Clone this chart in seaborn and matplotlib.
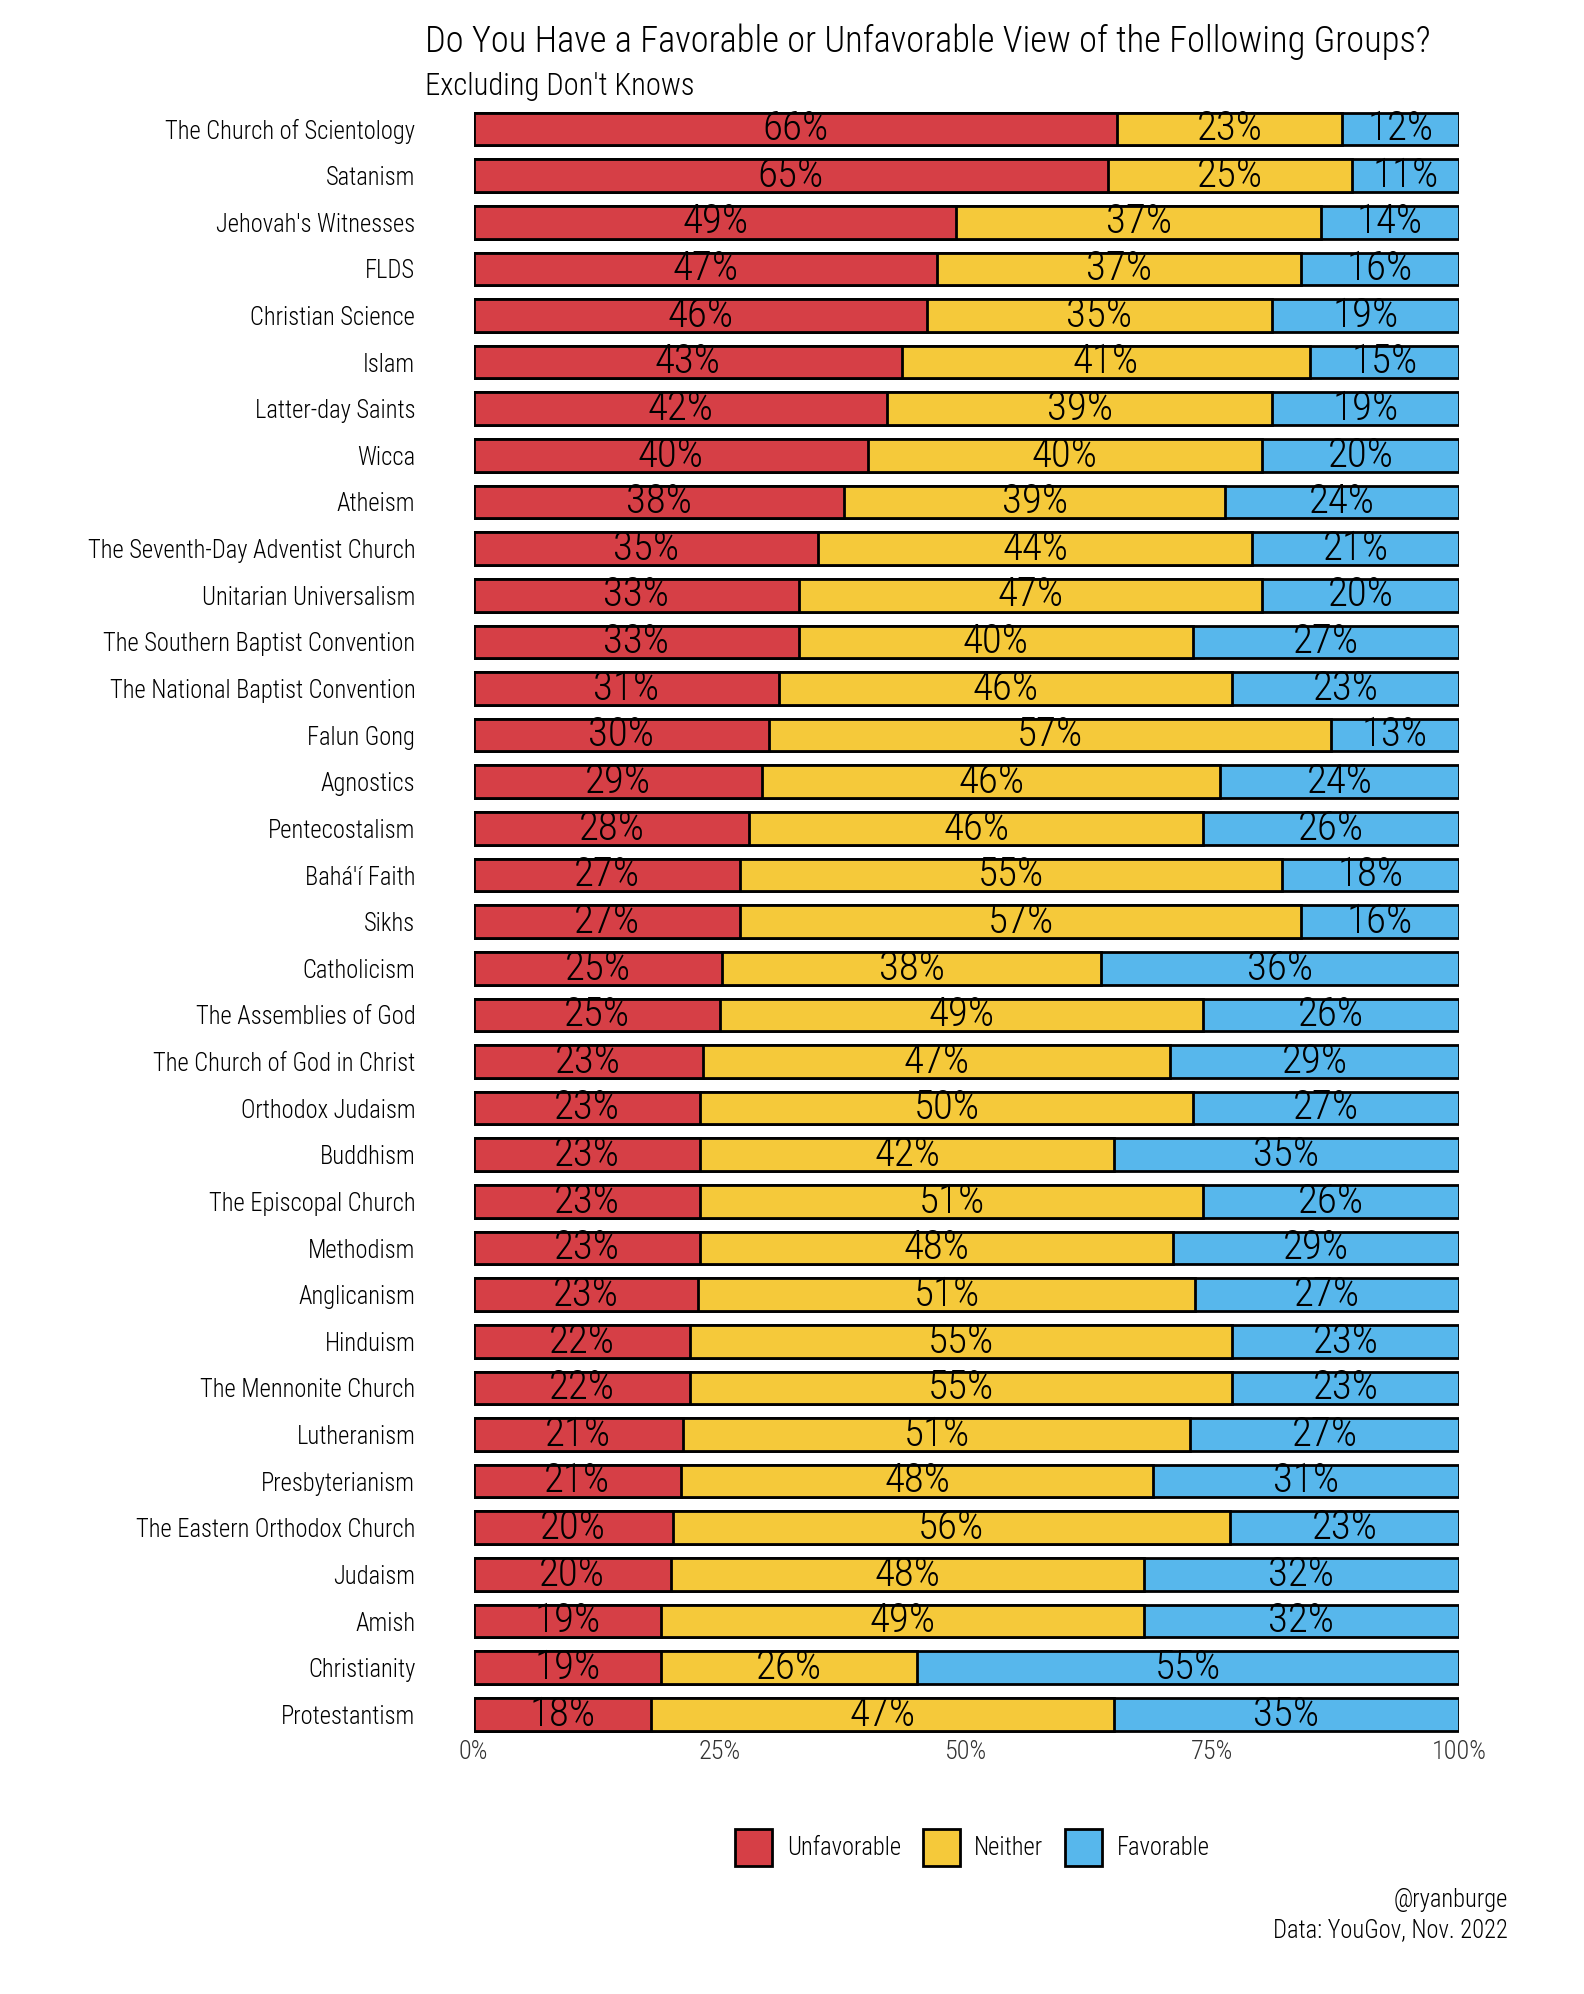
import numpy as np
import pandas as pd
import matplotlib
matplotlib.use("Agg")
import matplotlib.pyplot as plt
import seaborn as sns
from matplotlib.patches import Patch
from matplotlib import font_manager as fm

groups = [
    "The Church of Scientology", "Satanism", "Jehovah's Witnesses", "FLDS",
    "Christian Science", "Islam", "Latter-day Saints", "Wicca", "Atheism",
    "The Seventh-Day Adventist Church", "Unitarian Universalism",
    "The Southern Baptist Convention", "The National Baptist Convention",
    "Falun Gong", "Agnostics", "Pentecostalism", "Bahá'í Faith", "Sikhs",
    "Catholicism", "The Assemblies of God", "The Church of God in Christ",
    "Orthodox Judaism", "Buddhism", "The Episcopal Church", "Methodism",
    "Anglicanism", "Hinduism", "The Mennonite Church", "Lutheranism",
    "Presbyterianism", "The Eastern Orthodox Church", "Judaism", "Amish",
    "Christianity", "Protestantism",
]
unfavorable = [66, 65, 49, 47, 46, 43, 42, 40, 38, 35, 33, 33, 31, 30, 29, 28, 27, 27,
               25, 25, 23, 23, 23, 23, 23, 23, 22, 22, 21, 21, 20, 20, 19, 19, 18]
neither = [23, 25, 37, 37, 35, 41, 39, 40, 39, 44, 47, 40, 46, 57, 46, 46, 55, 57,
           38, 49, 47, 50, 42, 51, 48, 51, 55, 55, 51, 48, 56, 48, 49, 26, 47]
favorable = [12, 11, 14, 16, 19, 15, 19, 20, 24, 21, 20, 27, 23, 13, 24, 26, 18, 16,
             36, 26, 29, 27, 35, 26, 29, 27, 23, 23, 27, 31, 23, 32, 32, 55, 35]

colors = {"Unfavorable": "#D63F46", "Neither": "#F5C93A", "Favorable": "#57B7EC"}

sns.set_theme(style="white")

# pick the narrowest font that is installed
installed = {f.name for f in fm.fontManager.ttflist}
condensed = [f.name for f in fm.fontManager.ttflist
             if str(f.stretch) in ("condensed", "semi-condensed", "extra-condensed")]
main_font = "DejaVu Sans"
for cand in ["Roboto Condensed", "Liberation Sans Narrow", "Open Sans Condensed",
             "DejaVu Sans Condensed", "Noto Sans Condensed"]:
    if cand in installed:
        main_font = cand
        break
else:
    if "DejaVu Sans" in condensed:
        plt.rcParams["font.stretch"] = "condensed"
    elif "Roboto" in installed:
        main_font = "Roboto"
plt.rcParams["font.family"] = [main_font, "DejaVu Sans"]
plt.rcParams["font.weight"] = "light"
plt.rcParams["text.color"] = "black"

df = pd.DataFrame({"group": groups, "Unfavorable": unfavorable,
                   "Neither": neither, "Favorable": favorable})
tot = df[["Unfavorable", "Neither", "Favorable"]].sum(axis=1)
df["u"] = df["Unfavorable"] / tot
df["n"] = df["Neither"] / tot
df["f"] = df["Favorable"] / tot
df["un"] = df["u"] + df["n"]
df["all"] = df["un"] + df["f"]

fig = plt.figure(figsize=(15.84, 19.94), dpi=100)
renderer = fig.canvas.get_renderer()


def fit_size(text, target_px, base=20, cap=None):
    t = fig.text(0, 0, text, fontsize=base)
    w = t.get_window_extent(renderer).width
    t.remove()
    s = base * target_px / w
    return min(s, cap) if cap else s


title_fs = fit_size("Do You Have a Favorable or Unfavorable View of the Following Groups?", 1005, cap=30)
sub_fs = fit_size("Excluding Don't Knows", 270, cap=24)
ylab_fs = fit_size("The Seventh-Day Adventist Church", 328, cap=18)
bar_fs = fit_size("66%", 66, cap=30)
tick_fs = fit_size("100%", 55, cap=19)
small_fs = fit_size("Data: YouGov, Nov. 2022", 235, cap=18)

ax = fig.add_axes([0.299, 0.1286, 0.622, 0.8184])

kw = dict(y="group", orient="h", width=0.7, edgecolor="black", linewidth=2,
          saturation=1, ax=ax)
sns.barplot(data=df, x="all", color=colors["Favorable"], **kw)
sns.barplot(data=df, x="un", color=colors["Neither"], **kw)
sns.barplot(data=df, x="u", color=colors["Unfavorable"], **kw)

for i, row in df.iterrows():
    for start, width, val in [(0, row["u"], row["Unfavorable"]),
                              (row["u"], row["n"], row["Neither"]),
                              (row["un"], row["f"], row["Favorable"])]:
        ax.text(start + width / 2, i, f"{val}%", ha="center", va="center",
                fontsize=bar_fs, color="black")

ax.set_xlim(0, 1)
ax.set_ylim(len(groups) - 0.5, -0.5)
ax.set_xticks([0, 0.25, 0.5, 0.75, 1])
ax.set_xticklabels(["0%", "25%", "50%", "75%", "100%"])
ax.tick_params(axis="x", labelsize=tick_fs, pad=2, length=0, colors="#333333")
ax.tick_params(axis="y", labelsize=ylab_fs, pad=42, length=0, colors="black")
ax.set_xlabel("")
ax.set_ylabel("")
sns.despine(ax=ax, left=True, bottom=True)

fig.text(0.268, 0.988, "Do You Have a Favorable or Unfavorable View of the Following Groups?",
         fontsize=title_fs, ha="left", va="top")
fig.text(0.268, 0.964, "Excluding Don't Knows", fontsize=sub_fs, ha="left", va="top")

handles = [Patch(facecolor=c, edgecolor="black", linewidth=2, label=k) for k, c in colors.items()]
fig.legend(handles=handles, loc="center", bbox_to_anchor=(0.614, 0.0735), ncol=3,
           frameon=False, fontsize=small_fs, handlelength=1.5, handleheight=1.9,
           handletextpad=0.6, columnspacing=0.9, labelcolor="black")

fig.text(0.952, 0.026, "@ryanburge\nData: YouGov, Nov. 2022", fontsize=small_fs,
         ha="right", va="bottom", linespacing=1.3)

fig.savefig("out.png", dpi=100, facecolor="white")
